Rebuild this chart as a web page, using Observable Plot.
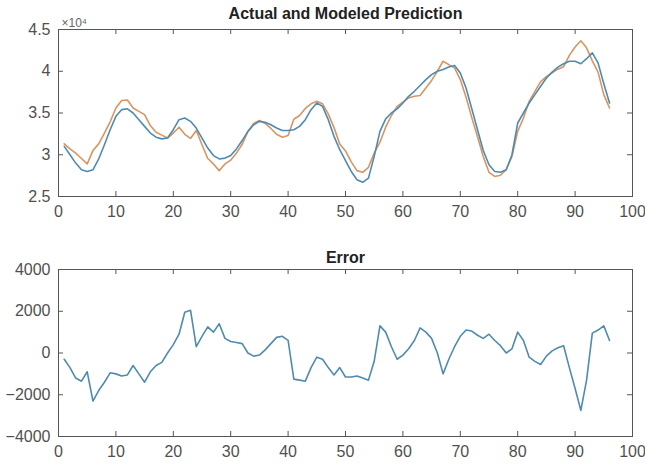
<!DOCTYPE html>
<html><head><meta charset="utf-8">
<script src="https://cdn.jsdelivr.net/npm/d3@7"></script>
<script src="https://cdn.jsdelivr.net/npm/@observablehq/plot@0.6"></script>
<style>
html,body{margin:0;padding:0;background:#fff;}
#chart{width:645px;height:466px;overflow:hidden;background:#fff;}
#chart svg{display:block;overflow:visible;}
</style></head><body><div id="chart"></div>
<script>
const steps = d3.range(1, 97);
const actual = [31000,30000,29000,28200,28000,28200,29500,31200,33000,34600,
35400,35500,35000,34200,33400,32600,32100,31900,32000,33000,
34200,34400,34000,33200,32000,30800,29900,29500,29600,29900,
30700,31700,32800,33600,34000,33900,33600,33200,32900,32900,
33000,33400,34200,35400,36200,35800,34200,32200,30600,29300,
28000,27000,26700,27200,29800,32800,34300,35000,35500,36200,
37000,37600,38300,39000,39600,40000,40200,40500,40700,39800,
38000,35500,33000,30500,28800,28000,27900,28200,30000,33800,
35000,36200,37200,38200,39200,39900,40500,40900,41200,41200,
40900,41500,42200,41000,38500,36200];
const predicted = [31300,30700,30200,29550,28900,30500,31300,32600,33950,35600,
36500,36550,35600,35200,34800,33500,32700,32350,32000,32600,
33300,32450,31950,32900,31200,29550,28900,28100,28900,29350,
30200,31250,32800,33750,34100,33750,33150,32450,32100,32300,
34250,34700,35550,36100,36400,36100,34900,33250,31300,30450,
29150,28100,27900,28500,30200,31500,33300,34700,35800,36300,
36800,37000,37100,38000,38900,40000,41200,40800,40400,39000,
36900,34450,32150,29800,27900,27400,27550,28200,29800,32800,
34400,36400,37600,38750,39350,39800,40250,40550,41900,42900,
43650,42800,41250,39900,37200,35600];
const errorValues = [-300,-700,-1200,-1350,-900,-2300,-1800,-1400,-950,-1000,
-1100,-1050,-600,-1000,-1400,-900,-600,-450,0,400,
900,1950,2050,300,800,1250,1000,1400,700,550,
500,450,0,-150,-100,150,450,750,800,600,
-1250,-1300,-1350,-700,-200,-300,-700,-1050,-700,-1150,
-1150,-1100,-1200,-1300,-400,1300,1000,300,-300,-100,
200,600,1200,1000,700,0,-1000,-300,300,800,
1100,1050,850,700,900,600,350,0,200,1000,
600,-200,-400,-550,-150,100,250,350,-700,-1700,
-2750,-1300,950,1100,1300,600];
const xTicks = [0,10,20,30,40,50,60,70,80,90,100];
const topTicks = [25000,30000,35000,40000,45000];
const errTicks = [-4000,-2000,0,2000,4000];
const topTitle = "Actual and Modeled Prediction";
const errTitle = "Error";
const expLabel = "×10⁴";

const W = 645, mL = 58, mR = 13, TL = 5;
const axisColor = "#555555";
const blue = "#4f8bb0";
const orange = "#d99462";

function panel({height, marginTop, marginBottom, yDomain, yTicks, yFormat, lines, title, titleDy, extra = []}) {
  const plotW = W - mL - mR;
  const plotH = height - marginTop - marginBottom;
  return Plot.plot({
    width: W, height, marginTop, marginBottom, marginLeft: mL, marginRight: mR,
    style: {fontFamily: "'Liberation Sans', Arial, sans-serif", fontSize: "16px", color: "#505050", background: "#fff", overflow: "visible"},
    x: {domain: [0, 100], axis: null},
    y: {domain: yDomain, axis: null},
    marks: [
      ...lines,
      Plot.frame({stroke: axisColor, strokeWidth: 1}),
      Plot.tickX(xTicks.slice(1, -1), {x: d => d, insetTop: plotH - TL, stroke: axisColor}),
      Plot.tickX(xTicks.slice(1, -1), {x: d => d, insetBottom: plotH - TL, stroke: axisColor}),
      Plot.tickY(yTicks.slice(1, -1), {y: d => d, insetRight: plotW - TL, stroke: axisColor}),
      Plot.tickY(yTicks.slice(1, -1), {y: d => d, insetLeft: plotW - TL, stroke: axisColor}),
      Plot.axisX({ticks: xTicks, tickSize: 0, tickPadding: 9, tickFormat: d => String(d)}),
      Plot.axisY({ticks: yTicks, tickSize: 0, tickPadding: 8, tickFormat: yFormat}),
      Plot.text([title], {text: d => d, frameAnchor: "top", lineAnchor: "bottom", dy: titleDy, fontWeight: "bold", fontSize: 16, fill: "#222"}),
      ...extra
    ]
  });
}

const topPanel = panel({
  height: 233, marginTop: 29, marginBottom: 37,
  yDomain: [25000, 45000], yTicks: topTicks,
  yFormat: d => String(d / 1e4),
  title: topTitle, titleDy: -11,
  lines: [
    Plot.lineY(predicted, {x: steps, stroke: orange, strokeWidth: 1.6}),
    Plot.lineY(actual, {x: steps, stroke: blue, strokeWidth: 1.6})
  ],
  extra: [Plot.text([expLabel], {text: d => d, frameAnchor: "top-left", textAnchor: "start", lineAnchor: "bottom", dx: 3, dy: -3, fontSize: 12, fill: "#666"})]
});

const bottomPanel = panel({
  height: 233, marginTop: 36, marginBottom: 30,
  yDomain: [-4000, 4000], yTicks: errTicks,
  yFormat: d => d < 0 ? "\u2212" + (-d) : String(d),
  title: errTitle, titleDy: -7,
  lines: [Plot.lineY(errorValues, {x: steps, stroke: blue, strokeWidth: 1.6})]
});

const chart = document.getElementById("chart");
chart.appendChild(topPanel);
chart.appendChild(bottomPanel);
</script>
</body></html>
